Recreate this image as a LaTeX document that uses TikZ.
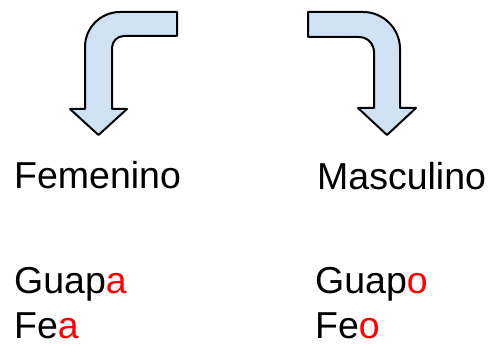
\documentclass[tikz,border=0pt]{standalone}
\usepackage{fontspec}
\setmainfont{Liberation Sans}
\definecolor{arrowfill}{RGB}{207,226,243}
\definecolor{ending}{RGB}{255,0,0}
\begin{document}
\begin{tikzpicture}[x=1pt,y=-1pt,
  bentarrow/.style={draw=black,line width=2pt,fill=arrowfill,line join=round},
  word/.style={anchor=base west,inner sep=0pt,font=\fontsize{37.5}{45}\selectfont}]
\useasboundingbox (0,0) rectangle (490,347);
% left arrow
\draw[bentarrow] (177,12) -- (120,12) arc[start angle=90,end angle=180,radius=35pt]
  -- (85,109) -- (70,109) -- (98.5,135) -- (127,109) -- (112,109) -- (112,48)
  arc[start angle=180,end angle=90,radius=12pt] -- (177,36) -- cycle;
% right arrow
\draw[bentarrow] (308,12) -- (363,12) arc[start angle=90,end angle=0,radius=37pt]
  -- (400,108) -- (416,108) -- (387,135) -- (358,108) -- (374,108) -- (374,52)
  arc[start angle=0,end angle=90,radius=15pt] -- (308,37) -- cycle;
\node[word] (fem) at (14,189) {Femenino};
\node[word] (mas) at (317,190) {Masculino};
\node[word] (guapa) at (14,294) {Guap\textcolor{ending}{a}};
\node[word] (fea) at (14,338) {Fe\textcolor{ending}{a}};
\node[word] (guapo) at (315,294) {Guap\textcolor{ending}{o}};
\node[word] (feo) at (315,338) {Fe\textcolor{ending}{o}};
\end{tikzpicture}
\end{document}
